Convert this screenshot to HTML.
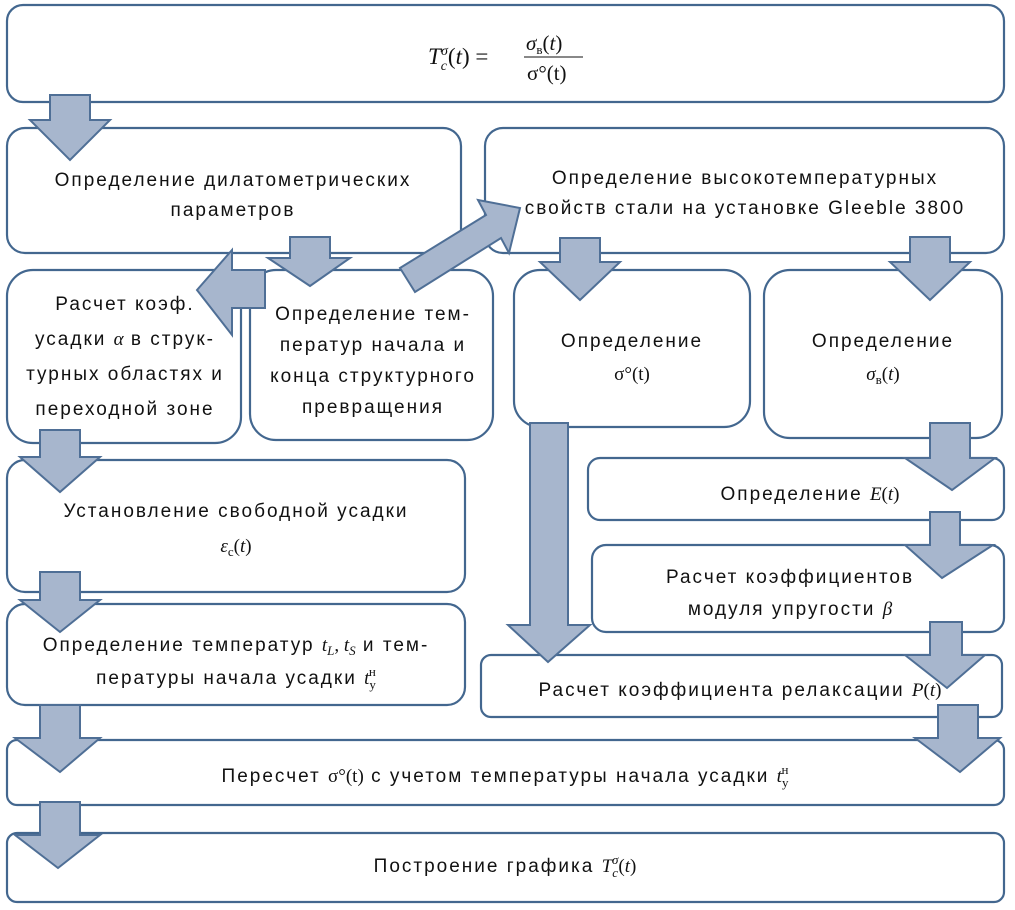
<!DOCTYPE html>
<html><head><meta charset="utf-8"><style>
html,body{margin:0;padding:0;background:#fff;}
svg{display:block;}
text{font-family:"Liberation Sans",sans-serif;font-size:19px;letter-spacing:2px;fill:#111;}
.m{font-family:"Liberation Serif",serif;font-style:italic;letter-spacing:0;}
.r{font-family:"Liberation Serif",serif;letter-spacing:0;}
</style></head><body>
<svg width="1015" height="910" viewBox="0 0 1015 910" xmlns="http://www.w3.org/2000/svg">
<g fill="#fff" stroke="#43678f" stroke-width="2.2">
<rect x="7" y="5" width="997" height="97" rx="16"/>
<rect x="7" y="128" width="454" height="125" rx="18"/>
<rect x="485" y="128" width="519" height="125" rx="18"/>
<rect x="7" y="270" width="234" height="173" rx="26"/>
<rect x="250" y="270" width="243" height="170" rx="26"/>
<rect x="514" y="270" width="236" height="157" rx="26"/>
<rect x="764" y="270" width="238" height="168" rx="26"/>
<rect x="588" y="458" width="416" height="62" rx="12"/>
<rect x="592" y="545" width="412" height="87" rx="14"/>
<rect x="7" y="460" width="458" height="132" rx="18"/>
<rect x="7" y="604" width="458" height="101" rx="18"/>
<rect x="481" y="655" width="521" height="62" rx="10"/>
<rect x="7" y="740" width="997" height="65" rx="10"/>
<rect x="7" y="833" width="997" height="69" rx="10"/>
</g>
<g fill="#a7b6cd" stroke="#4f6f96" stroke-width="2">
<polygon points="50,95 90,95 90,120 110,120 70,160 30,120 50,120"/>
<polygon points="290,237 330,237 330,258 350,258 310,286 268,258 290,258"/>
<polygon points="265,270 265,308 232,308 232,335 197,290 232,250 232,270"/>
<polygon points="400,268 486,215 478,200 520,208 509,253 501,238 415,292"/>
<polygon points="560,238 600,238 600,262 620,262 580,300 540,262 560,262"/>
<polygon points="910,237 950,237 950,262 970,262 930,300 890,262 910,262"/>
<polygon points="40,430 80,430 80,457 100,457 60,492 20,457 40,457"/>
<polygon points="530,423 568,423 568,625 590,625 548,662 508,625 530,625"/>
<polygon points="930,423 970,423 970,458 995,458 952,490 905,458 930,458"/>
<polygon points="930,512 960,512 960,545 993,545 942,578 905,545 930,545"/>
<polygon points="930,622 962,622 962,655 985,655 947,688 905,655 930,655"/>
<polygon points="40,572 80,572 80,600 100,600 60,632 20,600 40,600"/>
<polygon points="40,705 80,705 80,738 100,738 60,772 15,738 40,738"/>
<polygon points="938,705 978,705 978,738 1000,738 960,772 915,738 938,738"/>
<polygon points="40,802 80,802 80,835 100,835 58,868 15,835 40,835"/>
</g>
<text x="428" y="64" class="m" style="font-size:23px">T<tspan font-size="14" dy="6">c</tspan><tspan font-size="14" dy="-15" dx="-6">σ</tspan><tspan dy="9" class="r" font-style="normal">(</tspan>t<tspan class="r" font-style="normal">) =</tspan></text>
<text x="526" y="50" class="m" style="font-size:21px">σ<tspan font-size="13" dy="4" font-style="normal">в</tspan><tspan dy="-4" font-style="normal">(</tspan>t<tspan font-style="normal">)</tspan></text>
<line x1="524" y1="57" x2="583" y2="57" stroke="#111" stroke-width="1"/>
<text x="527" y="80" class="r" style="font-size:21px">σ°(t)</text>
<g text-anchor="middle">
<text x="233" y="186">Определение дилатометрических</text>
<text x="233" y="216">параметров</text>
<text x="745" y="184">Определение высокотемпературных</text>
<text x="745" y="214">свойств стали на установке Gleeble 3800</text>
<text x="125" y="310">Расчет коэф.</text>
<text x="125" y="345">усадки <tspan class="m">α</tspan> в струк-</text>
<text x="125" y="380">турных областях и</text>
<text x="125" y="415">переходной зоне</text>
<text x="373" y="320">Определение тем-</text>
<text x="373" y="351">ператур начала и</text>
<text x="373" y="382">конца структурного</text>
<text x="373" y="413">превращения</text>
<text x="632" y="347">Определение</text>
<text x="632" y="380" class="r">σ°(t)</text>
<text x="883" y="347">Определение</text>
<text x="883" y="380" class="m">σ<tspan font-size="13" font-style="normal" dy="4">в</tspan><tspan dy="-4" font-style="normal">(</tspan>t<tspan font-style="normal">)</tspan></text>
<text x="810" y="500">Определение <tspan class="m">E</tspan><tspan class="r">(</tspan><tspan class="m">t</tspan><tspan class="r">)</tspan></text>
<text x="790" y="583">Расчет коэффициентов</text>
<text x="790" y="615">модуля упругости  <tspan class="m">β</tspan></text>
<text x="236" y="517">Установление свободной усадки</text>
<text x="236" y="552" class="m">ε<tspan font-size="13" font-style="normal" dy="4">с</tspan><tspan dy="-4" class="r" font-style="normal">(</tspan>t<tspan class="r" font-style="normal">)</tspan></text>
<text x="236" y="651">Определение температур <tspan class="m">t<tspan font-size="13" dy="4">L</tspan><tspan dy="-4" font-style="normal">, </tspan>t<tspan font-size="13" dy="4">S</tspan></tspan><tspan dy="-4"> и тем-</tspan></text>
<text x="236" y="684">пературы начала усадки <tspan class="m">t<tspan font-size="13" dy="5" font-style="normal">у</tspan><tspan font-size="13" dx="-7" dy="-13" font-style="normal">н</tspan></tspan></text>
<text x="740" y="696">Расчет коэффициента релаксации <tspan class="m">P</tspan><tspan class="r">(</tspan><tspan class="m">t</tspan><tspan class="r">)</tspan></text>
<text x="505" y="782">Пересчет <tspan class="r">σ°(t)</tspan> с учетом температуры начала усадки <tspan class="m">t<tspan font-size="13" dy="5" font-style="normal">у</tspan><tspan font-size="13" dx="-7" dy="-13" font-style="normal">н</tspan></tspan></text>
<text x="505" y="872">Построение графика <tspan class="m">T<tspan font-size="13" dy="5">c</tspan><tspan font-size="13" dx="-6" dy="-13">σ</tspan><tspan dy="8" class="r" font-style="normal">(</tspan>t<tspan class="r" font-style="normal">)</tspan></tspan></text>
</g>
</svg>
</body></html>
